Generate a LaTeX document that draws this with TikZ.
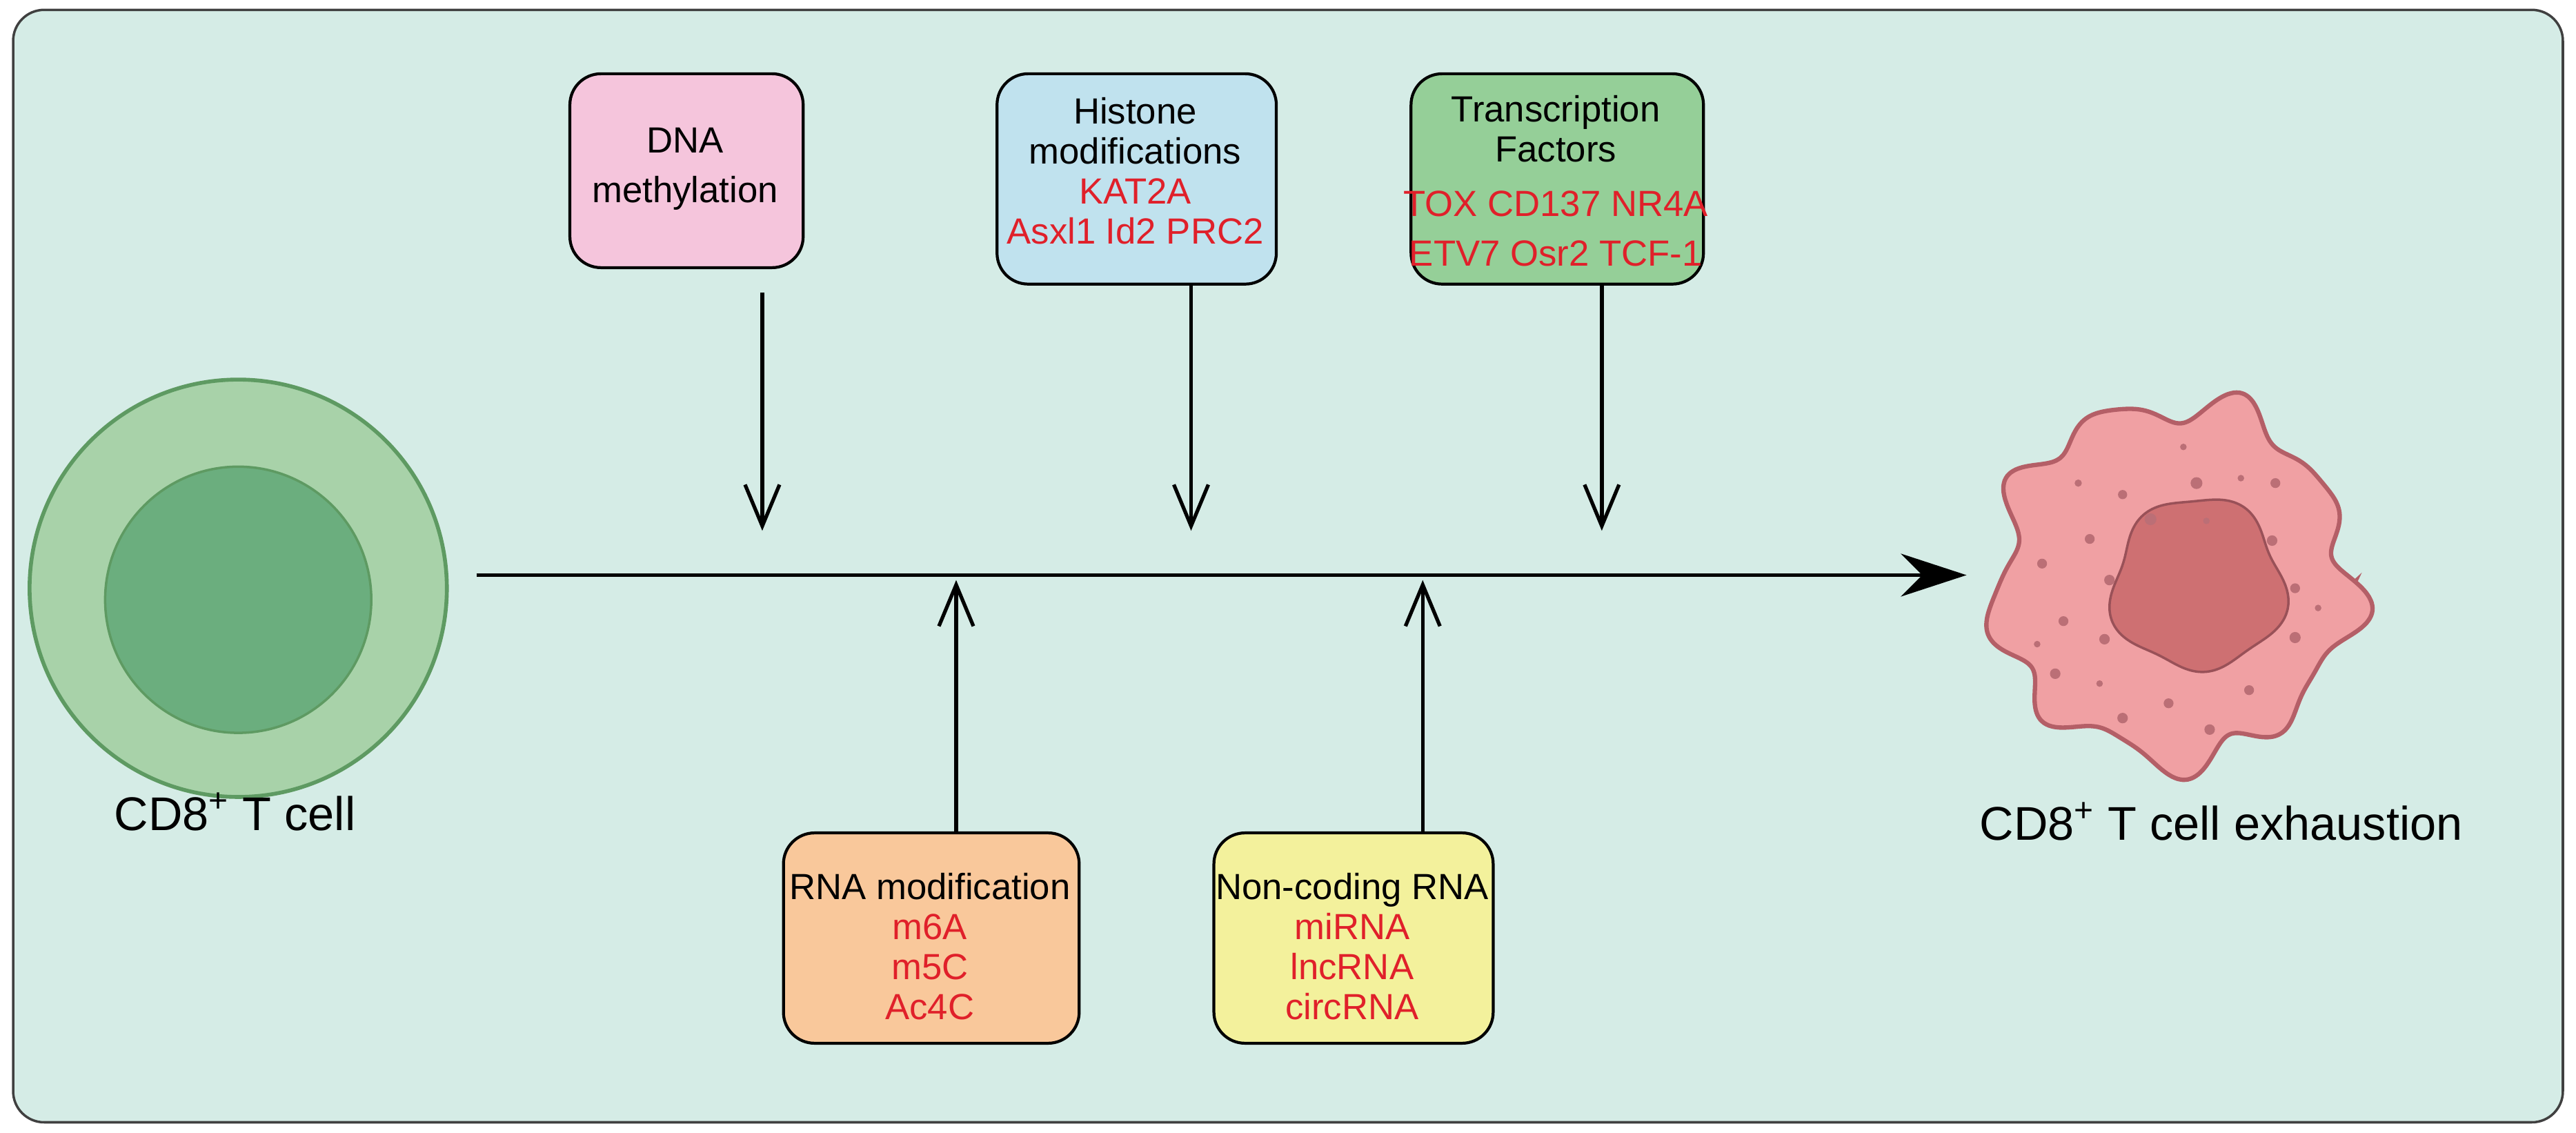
\documentclass[tikz,border=0pt]{standalone}
\usepackage{fontspec}
\setmainfont{Liberation Sans}
\usetikzlibrary{arrows.meta}
\definecolor{bg}{HTML}{D5ECE6}
\definecolor{pinkb}{HTML}{F5C5DC}
\definecolor{blueb}{HTML}{C0E2EE}
\definecolor{greenb}{HTML}{95CF98}
\definecolor{orangeb}{HTML}{F9C89B}
\definecolor{yellowb}{HTML}{F3F19C}
\definecolor{redt}{HTML}{E0202A}
\definecolor{cellout}{HTML}{A8D2A9}
\definecolor{cellin}{HTML}{6BAE7E}
\definecolor{cellst}{HTML}{5E9A62}
\definecolor{exfill}{HTML}{F0A0A3}
\definecolor{exst}{HTML}{B45F67}
\definecolor{nucfill}{HTML}{CE7072}
\begin{document}
\begin{tikzpicture}[x=0.023814cm,y=-0.023814cm,
  box/.style={draw=black,line width=1.2pt,rounded corners=0.45cm,align=center,inner sep=0pt},
  txt/.style={align=center,font=\fontsize{15}{16.5}\selectfont},
  down/.style={line width=1.5pt,-{Straight Barb[length=0.6cm,width=0.5cm,line width=1.5pt]}},
  lab/.style={font=\fontsize{19.5}{22}\selectfont}]
\useasboundingbox (0,0) rectangle (1568,689.5);
\draw[fill=bg,draw=black!75,line width=1pt,rounded corners=0.45cm] (8,6) rectangle (1560,683);
% boxes
\node[box,fill=pinkb,minimum width=142*0.023814cm,minimum height=118*0.023814cm,anchor=north west] (dna) at (346,44) {};
\node[txt] (dnat) at (417,103) {DNA\\[4pt]methylation};
\node[box,fill=blueb,minimum width=170*0.023814cm,minimum height=128*0.023814cm,anchor=north west] (his) at (606,44) {};
\node[txt] (hist) at (691,104) {Histone\\modifications\\\textcolor{redt}{KAT2A}\\\textcolor{redt}{Asxl1 Id2 PRC2}};
\node[box,fill=greenb,minimum width=178*0.023814cm,minimum height=128*0.023814cm,anchor=north west] (tf) at (858,44) {};
\node[txt] (tft) at (947,110) {Transcription\\Factors\\[6pt]\textcolor{redt}{TOX CD137 NR4A}\\[4pt]\textcolor{redt}{ETV7 Osr2 TCF-1}};
\node[box,fill=orangeb,minimum width=180*0.023814cm,minimum height=128*0.023814cm,anchor=north west] (rna) at (476,506) {};
\node[txt] (rnat) at (566,576) {RNA modification\\\textcolor{redt}{m6A}\\\textcolor{redt}{m5C}\\\textcolor{redt}{Ac4C}};
\node[box,fill=yellowb,minimum width=170*0.023814cm,minimum height=128*0.023814cm,anchor=north west] (nc) at (738,506) {};
\node[txt] (nct) at (823,576) {Non-coding RNA\\\textcolor{redt}{miRNA}\\\textcolor{redt}{lncRNA}\\\textcolor{redt}{circRNA}};
% main arrow
\coordinate (ms) at (290,350);
\coordinate (me) at (1197,350);
\draw[line width=1.5pt,-{Stealth[length=0.95cm,width=0.62cm]}] (ms) -- (me);
% down arrows
\coordinate (d1) at (464,323);
\coordinate (d2) at (725,323);
\coordinate (d3) at (975,323);
\coordinate (s1) at (464,178);
\draw[down] (s1) -- (d1);
\draw[down] (his.south -| d2) -- (d2);
\draw[down] (tf.south -| d3) -- (d3);
\coordinate (u1) at (582,353);
\coordinate (u2) at (866,353);
\draw[down] (rna.north -| u1) -- (u1);
\draw[down] (nc.north -| u2) -- (u2);
% left cell
\node[circle,draw=cellst,line width=1.6pt,fill=cellout,minimum size=254*0.023814cm] (cell) at (145,358) {};
\node[circle,draw=cellst,line width=1pt,fill=cellin,minimum size=162*0.023814cm] (nuc) at (145,365) {};
\node[lab] (l1) at (143,494) {CD8\textsuperscript{+} T cell};
% exhausted cell
\begin{scope}[shift={(1323,354)}]
\draw[draw=exst,line width=1.8pt,fill=exfill] plot[domain=0:360,samples=240,smooth cycle] (\x:{108+8*sin(9*\x)+4*sin(5*\x+40)+3*sin(14*\x)});
\draw[draw=exst!85!black,line width=1pt,fill=nucfill,shift={(15,2)}] plot[domain=0:360,samples=120,smooth cycle] (\x:{52+3*sin(5*\x+20)+2*sin(3*\x)});
\foreach \a/\b/\r in {6/-82/2,-58/-60/2.2,14/-60/3.6,41/-63/2,62/-60/3,-31/-53/2.8,-14/-38/3.6,20/-37/2,-51/-26/3,60/-25/3.2,-80/-11/3,-39/-1/3.2,74/4/3,88/16/2,-67/24/3,-42/35/3.2,74/34/3.4,-83/38/2,-72/56/3.2,-45/62/2,46/66/3,-3/74/3,-31/83/3.2,22/90/3.2}{
  \fill[exst!90] (\a,\b) circle (\r);}
\end{scope}
\coordinate (ex) at (1352,500);
\node[lab] (l2) at (ex) {CD8\textsuperscript{+} T cell exhaustion};
\end{tikzpicture}
\end{document}
